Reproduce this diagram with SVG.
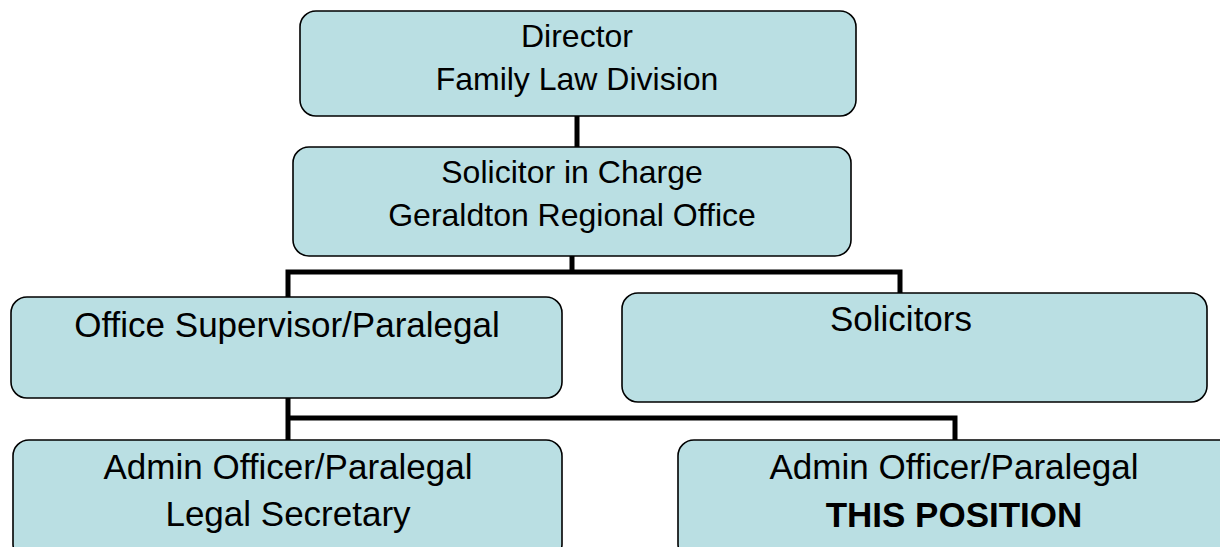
<svg xmlns="http://www.w3.org/2000/svg" width="1220" height="547" viewBox="0 0 1220 547">
<style>
.box{fill:#BADFE3;stroke:#000;stroke-width:1.6}
.t{font-family:"Liberation Sans",Arial,sans-serif;font-size:32px;fill:#000;text-anchor:middle}
.l{font-size:35px}
.b{font-weight:bold}
.c{fill:none;stroke:#000;stroke-width:5;stroke-linecap:butt;stroke-linejoin:miter}
</style>
<rect width="1220" height="547" fill="#fff"/>
<g id="connectors">
<path class="c" d="M577 116 V148"/>
<path class="c" d="M572 256 V272 M288 298 V272 H900 V293"/>
<path class="c" d="M288 398 V440 M288 418 H955 V440"/>
</g>
<g id="director">
<rect class="box" x="300" y="11" width="556" height="105" rx="16"/>
<text class="t" x="577" y="47">Director</text>
<text class="t" x="577" y="90">Family Law Division</text>
</g>
<g id="solicitor-in-charge">
<rect class="box" x="293" y="147" width="558" height="109" rx="16"/>
<text class="t" x="572" y="183">Solicitor in Charge</text>
<text class="t" x="572" y="226">Geraldton Regional Office</text>
</g>
<g id="office-supervisor">
<rect class="box" x="11" y="297" width="551" height="101" rx="16"/>
<text class="t l" x="287" y="337">Office Supervisor/Paralegal</text>
</g>
<g id="solicitors">
<rect class="box" x="622" y="293" width="585" height="109" rx="16"/>
<text class="t l" x="901" y="331">Solicitors</text>
</g>
<g id="admin-left">
<rect class="box" x="13" y="440" width="549" height="120" rx="16"/>
<text class="t l" x="288" y="479">Admin Officer/Paralegal</text>
<text class="t l" x="288" y="526">Legal Secretary</text>
</g>
<g id="admin-right">
<rect class="box" x="678" y="440" width="560" height="120" rx="16"/>
<text class="t l" x="954" y="479">Admin Officer/Paralegal</text>
<text class="t l b" x="954" y="527">THIS POSITION</text>
</g>
</svg>
